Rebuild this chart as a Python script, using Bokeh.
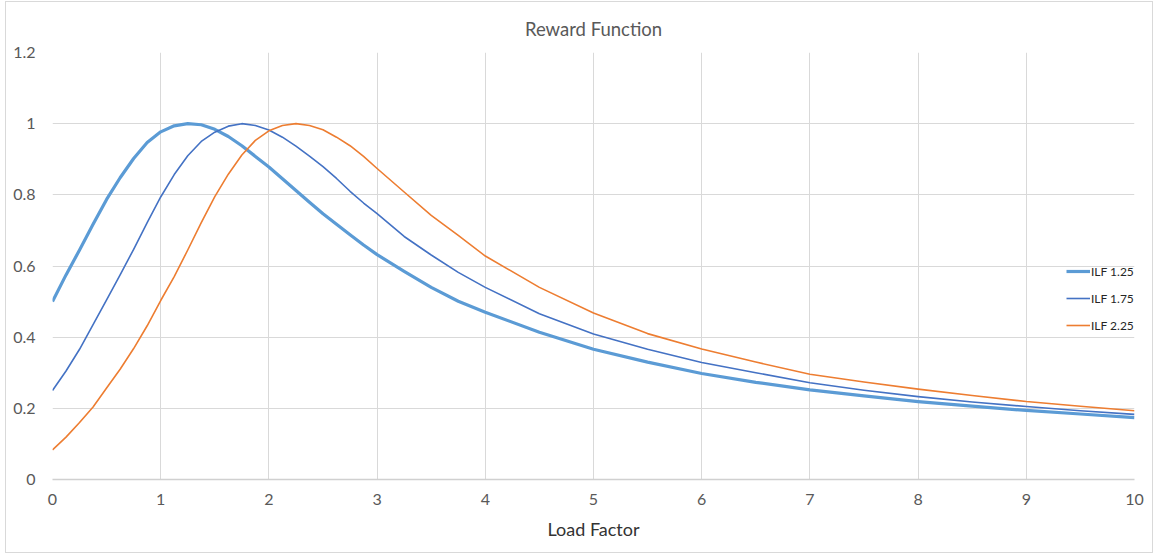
from bokeh.plotting import figure
from bokeh.models import Range1d, FixedTicker, Legend
from bokeh.embed import file_html
from bokeh.resources import INLINE

# Load factor samples and the reward curve for each ideal load factor (ILF)
load_factor = [0.0, 0.125, 0.25, 0.375, 0.5, 0.625, 0.75, 0.875, 1.0, 1.125,
               1.25, 1.375, 1.5, 1.625, 1.75, 1.875, 2.0, 2.125, 2.25, 2.375,
               2.5, 2.625, 2.75, 2.875, 3.0, 3.25, 3.5, 3.75, 4.0, 4.5, 5.0,
               5.5, 6.0, 6.5, 7.0, 7.5, 8.0, 8.5, 9.0, 9.5, 10.0]
ilf_125 = [0.500, 0.575, 0.645, 0.717, 0.787, 0.848, 0.902, 0.947, 0.977, 0.994,
           1.000, 0.997, 0.984, 0.964, 0.938, 0.908, 0.878, 0.845, 0.812, 0.779,
           0.747, 0.717, 0.688, 0.659, 0.632, 0.585, 0.540, 0.501, 0.470, 0.414,
           0.366, 0.330, 0.298, 0.273, 0.252, 0.235, 0.219, 0.206, 0.194, 0.184,
           0.174]
ilf_175 = [0.250, 0.305, 0.366, 0.435, 0.505, 0.575, 0.647, 0.722, 0.794, 0.857,
           0.910, 0.950, 0.976, 0.993, 1.000, 0.995, 0.982, 0.962, 0.937, 0.909,
           0.879, 0.846, 0.810, 0.777, 0.747, 0.683, 0.631, 0.582, 0.540, 0.466,
           0.409, 0.366, 0.329, 0.300, 0.272, 0.251, 0.233, 0.218, 0.205, 0.193,
           0.183]
ilf_225 = [0.083, 0.119, 0.160, 0.204, 0.257, 0.310, 0.368, 0.432, 0.503, 0.570,
           0.645, 0.722, 0.795, 0.858, 0.912, 0.953, 0.980, 0.995, 1.000, 0.995,
           0.983, 0.962, 0.938, 0.908, 0.874, 0.808, 0.742, 0.686, 0.628, 0.540,
           0.468, 0.410, 0.367, 0.330, 0.296, 0.274, 0.254, 0.236, 0.219, 0.206,
           0.193]

series_names = ["ILF 1.25", "ILF 1.75", "ILF 2.25"]
x_ticks = [0, 1, 2, 3, 4, 5, 6, 7, 8, 9, 10]
y_ticks = [0, 0.2, 0.4, 0.6, 0.8, 1.0, 1.2]
y_tick_labels = ["0", "0.2", "0.4", "0.6", "0.8", "1", "1.2"]

FONT = "Lato"
GRID = "#D9D9D9"

# canvas sits inside a thin grey chart border
p = figure(width=1148, height=552, output_backend="svg", toolbar_location=None,
           x_range=Range1d(0, 10), y_range=Range1d(0, 1.2),
           min_border_left=46, min_border_right=20, min_border_top=50,
           min_border_bottom=75)
p.margin = (1, 0, 0, 5)
p.styles = {"border": "1px solid #D9D9D9"}
p.outline_line_color = None
p.background_fill_color = "white"
p.border_fill_color = "white"

# title
p.title.text = "Reward Function"
p.title.align = "center"
p.title.text_font = FONT
p.title.text_font_style = "normal"
p.title.text_font_size = "18.5px"
p.title.text_color = "#595959"
p.title.standoff = 26

# axes
p.xaxis.ticker = FixedTicker(ticks=x_ticks)
p.yaxis.ticker = FixedTicker(ticks=y_ticks)
p.yaxis.major_label_overrides = {t: s for t, s in zip(y_ticks, y_tick_labels)}
for ax in (p.xaxis[0], p.yaxis[0]):
    ax.major_tick_line_color = None
    ax.minor_tick_line_color = None
    ax.major_tick_out = 0
    ax.major_tick_in = 0
    ax.major_label_text_font = FONT
    ax.major_label_text_font_size = "16px"
    ax.major_label_text_color = "#595959"
p.yaxis.axis_line_color = None
p.yaxis.major_label_standoff = 17
p.xaxis.axis_line_color = "#D0D0D0"
p.xaxis.axis_line_width = 1.5
p.xaxis.major_label_standoff = 14
p.xaxis.axis_label = "Load Factor"
p.xaxis.axis_label_text_font = FONT
p.xaxis.axis_label_text_font_style = "normal"
p.xaxis.axis_label_text_font_size = "18px"
p.xaxis.axis_label_text_color = "#333333"
p.xaxis.axis_label_standoff = 10

p.xgrid.grid_line_color = GRID
p.ygrid.grid_line_color = GRID
p.xgrid.ticker = FixedTicker(ticks=x_ticks)
p.ygrid.ticker = FixedTicker(ticks=y_ticks)

# curves
colors = ["#5B9BD5", "#4472C4", "#ED7D31"]
widths = [3.2, 1.6, 1.6]
renderers = []
for ys, c, w in zip([ilf_125, ilf_175, ilf_225], colors, widths):
    r = p.line(load_factor, ys, line_color=c, line_width=w, line_join="round")
    renderers.append(r)

legend = Legend(items=[(n, [r]) for n, r in zip(series_names, renderers)],
                location=(1014, 144), orientation="vertical",
                border_line_color=None, background_fill_alpha=0,
                padding=0, margin=0, spacing=7,
                glyph_width=24, glyph_height=20, label_height=20,
                label_standoff=1, label_text_font=FONT,
                label_text_font_size="12px", label_text_color="#262626")
p.add_layout(legend, "center")

open("out.html", "w").write(file_html(p, INLINE))
